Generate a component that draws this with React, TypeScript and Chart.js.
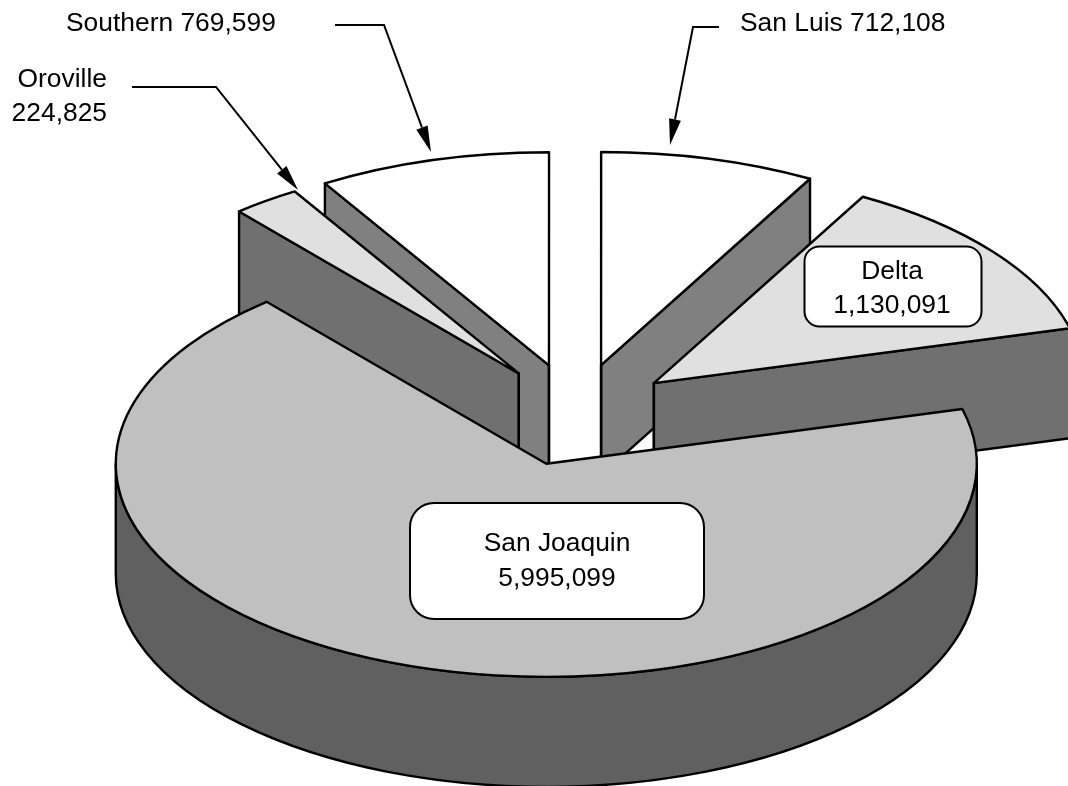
import React, { useEffect, useRef } from "react";
import { Chart, registerables } from "chart.js";

Chart.register(...registerables);

const categories = ["San Joaquin", "Oroville", "Southern", "San Luis", "Delta"];
const acreFeet = [5995099, 224825, 769599, 712108, 1130091];
const topColors = ["#c0c0c0", "#e0e0e0", "#ffffff", "#ffffff", "#e0e0e0"];
const sideColors = ["#606060", "#707070", "#808080", "#808080", "#707070"];
const paintOrder = [3, 2, 4, 1, 0];
const nudgeX = [0, 1.5, 0, 0, -1];
const nudgeY = [3.5, 0.5, 0, 0, 0.5];

const SQUASH = 0.495;
const DEPTH = 110;
const FONT = '26.4px "Liberation Sans", Arial, sans-serif';
const fmt = (v: number) => v.toLocaleString("en-US");

const piePlugin = {
  id: "tiltedPie",
  beforeDatasetsDraw(chart: any) {
    const ctx: CanvasRenderingContext2D = chart.ctx;
    const arcs = chart.getDatasetMeta(0).data;
    const base = arcs[0];
    const cy0 = base.y;
    const sy = (y: number) => cy0 + (y - cy0) * SQUASH;

    ctx.save();
    ctx.lineJoin = "round";
    ctx.lineCap = "round";
    ctx.lineWidth = 2.4;
    ctx.strokeStyle = "#000";

    for (const i of paintOrder) {
      const a = arcs[i];
      const opt = a.options;
      const mid = (a.startAngle + a.endAngle) / 2;
      const ax = a.x + Math.cos(mid) * opt.offset + nudgeX[i];
      const ay = a.y + Math.sin(mid) * opt.offset;
      const r = a.outerRadius;
      const oy = sy(ay) + nudgeY[i];
      const pt = (t: number) => [ax + Math.cos(t) * r, oy + Math.sin(t) * r * SQUASH];
      const apex = [ax, oy];
      const s = pt(a.startAngle);
      const e = pt(a.endAngle);

      ctx.fillStyle = sideColors[i];
      const quad = (p: number[], q: number[]) => {
        ctx.beginPath();
        ctx.moveTo(p[0], p[1]);
        ctx.lineTo(q[0], q[1]);
        ctx.lineTo(q[0], q[1] + DEPTH);
        ctx.lineTo(p[0], p[1] + DEPTH);
        ctx.closePath();
        ctx.fill();
        ctx.stroke();
      };
      if (s[0] < apex[0] - 1) quad(apex, s);
      if (e[0] > apex[0] + 1) quad(apex, e);
      ctx.beginPath();
      ctx.moveTo(apex[0], apex[1]);
      ctx.lineTo(apex[0], apex[1] + DEPTH);
      ctx.stroke();

      // outer wall: only the part that faces the viewer
      const TAU = Math.PI * 2;
      let from = a.startAngle;
      let to = a.endAngle;
      while (from < -Math.PI) {
        from += TAU;
        to += TAU;
      }
      const v0 = Math.max(from, 0);
      const v1 = Math.min(to, Math.PI);
      if (v1 > v0) {
        ctx.beginPath();
        ctx.ellipse(ax, apex[1], r, r * SQUASH, 0, v0, v1);
        ctx.ellipse(ax, apex[1] + DEPTH, r, r * SQUASH, 0, v1, v0, true);
        ctx.closePath();
        ctx.fill();
        ctx.stroke();
      }

      ctx.fillStyle = topColors[i];
      ctx.beginPath();
      ctx.moveTo(apex[0], apex[1]);
      ctx.ellipse(ax, apex[1], r, r * SQUASH, 0, a.startAngle, a.endAngle);
      ctx.closePath();
      ctx.fill();
      ctx.stroke();
    }
    ctx.restore();
    return false;
  },
  afterDraw(chart: any) {
    const ctx: CanvasRenderingContext2D = chart.ctx;
    ctx.save();
    ctx.lineWidth = 2;
    ctx.strokeStyle = "#000";
    ctx.fillStyle = "#000";
    ctx.lineJoin = "miter";
    ctx.font = FONT;
    ctx.textBaseline = "alphabetic";

    const leader = (pts: number[][]) => {
      ctx.beginPath();
      ctx.moveTo(pts[0][0], pts[0][1]);
      ctx.lineTo(pts[1][0], pts[1][1]);
      const [bx, by] = pts[1];
      const [tx, ty] = pts[2];
      const ang = Math.atan2(ty - by, tx - bx);
      const L = 26;
      const W = 6;
      const hx = tx - Math.cos(ang) * L;
      const hy = ty - Math.sin(ang) * L;
      ctx.lineTo(hx, hy);
      ctx.stroke();
      ctx.beginPath();
      ctx.moveTo(tx, ty);
      ctx.lineTo(hx - Math.sin(ang) * W, hy + Math.cos(ang) * W);
      ctx.lineTo(hx + Math.sin(ang) * W, hy - Math.cos(ang) * W);
      ctx.closePath();
      ctx.fill();
    };
    leader([[335, 25], [384, 25], [431, 152]]);
    leader([[132, 87], [216, 87], [298, 190]]);
    leader([[719, 27], [693, 27], [670, 145]]);

    const box = (x: number, y: number, w: number, h: number, r: number) => {
      ctx.beginPath();
      ctx.roundRect(x, y, w, h, r);
      ctx.fillStyle = "#fff";
      ctx.fill();
      ctx.stroke();
      ctx.fillStyle = "#000";
    };
    box(804.5, 246.5, 177, 80, 15);
    box(410, 503, 294, 116, 24);

    const label = (i: number) => categories[i];
    const val = (i: number) => fmt(acreFeet[i]);
    ctx.textAlign = "center";
    ctx.fillText(label(4), 892, 279);
    ctx.fillText(val(4), 892, 313);
    ctx.fillText(label(0), 557, 551);
    ctx.fillText(val(0), 557, 586);
    ctx.textAlign = "left";
    ctx.fillText(`${label(2)} ${val(2)}`, 66, 31);
    ctx.fillText(`${label(3)} ${val(3)}`, 740, 31);
    ctx.textAlign = "right";
    ctx.fillText(label(1), 107, 87);
    ctx.fillText(val(1), 107, 121);
    ctx.restore();
  },
};

export default function App() {
  const ref = useRef<HTMLCanvasElement>(null);
  useEffect(() => {
    const chart = new Chart(ref.current!, {
      type: "pie",
      data: {
        labels: categories,
        datasets: [
          {
            data: acreFeet,
            backgroundColor: topColors,
            borderColor: "#000",
            borderWidth: 2,
            offset: 100,
          },
        ],
      },
      options: {
        responsive: false,
        animation: false,
        rotation: 75.1,
        radius: 430.5,
        layout: { padding: { left: 84, top: 40, right: 0, bottom: 0 } },
        plugins: { legend: { display: false }, tooltip: { enabled: false }, title: { display: false } },
      } as any,
      plugins: [piePlugin as any],
    });
    return () => chart.destroy();
  }, []);
  return (
    <canvas
      ref={ref}
      width={1068}
      height={786}
      style={{ position: "absolute", left: 0, top: 0, display: "block" }}
    />
  );
}
